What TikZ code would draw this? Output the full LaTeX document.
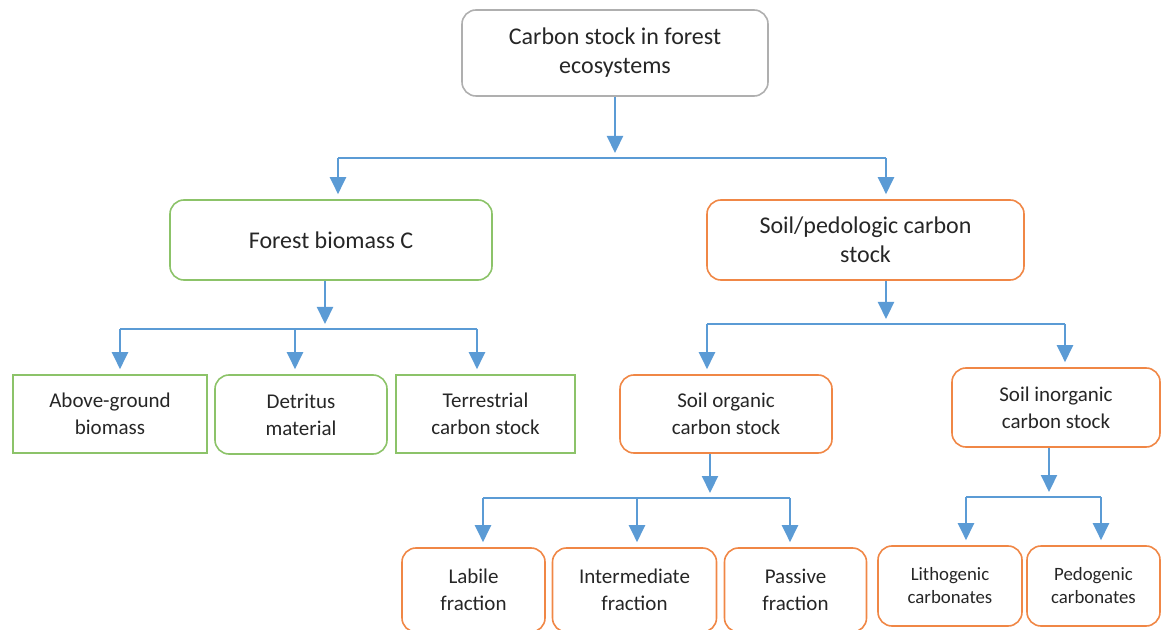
\documentclass[tikz,border=0pt]{standalone}
\usepackage{fontspec}
\setmainfont{Carlito}
\usetikzlibrary{arrows.meta}
\definecolor{arrowblue}{RGB}{91,155,213}
\definecolor{boxgreen}{RGB}{140,195,105}
\definecolor{boxorange}{RGB}{240,135,70}
\definecolor{boxgray}{RGB}{175,175,175}
\begin{document}
\begin{tikzpicture}[x=0.5pt, y=-0.5pt, >={Triangle[width=8pt,length=8.5pt]},
  box/.style={draw, line width=0.8pt, align=center, inner sep=2pt, text=black!85},
  rbox/.style={box, rounded corners=7pt},
  big/.style={font=\fontsize{12}{14.5}\selectfont},
  mid/.style={font=\fontsize{10.5}{13.5}\selectfont},
  small/.style={font=\fontsize{9.4}{11.5}\selectfont},
  arr/.style={->, arrowblue, line width=1.1pt, shorten >=2.5pt},
  bus/.style={arrowblue, line width=1.1pt}]
\useasboundingbox (0,0) rectangle (1161,630);
% boxes
\node[rbox, big, draw=boxgray, minimum width=153pt, minimum height=43pt] (ecosys) at (615,53) {Carbon stock in forest\\ecosystems};
\node[rbox, big, draw=boxgreen, minimum width=161pt, minimum height=40pt] (biomass) at (331,240) {Forest biomass C};
\node[rbox, big, draw=boxorange, minimum width=158.5pt, minimum height=40pt] (soil) at (865.5,240) {Soil/pedologic carbon\\stock};
\node[box, mid, draw=boxgreen, minimum width=97pt, minimum height=39pt] (above) at (110,414) {Above-ground\\biomass};
\node[rbox, mid, draw=boxgreen, minimum width=86pt, minimum height=39.5pt] (detritus) at (301,414.5) {Detritus\\material};
\node[box, mid, draw=boxgreen, minimum width=89.5pt, minimum height=39pt] (terr) at (485.5,414) {Terrestrial\\carbon stock};
\node[rbox, mid, draw=boxorange, minimum width=106pt, minimum height=39pt] (soc) at (726,414) {Soil organic\\carbon stock};
\node[rbox, mid, draw=boxorange, minimum width=104pt, minimum height=39.5pt] (sic) at (1056,407.5) {Soil inorganic\\carbon stock};
\node[rbox, mid, draw=boxorange, minimum width=71.5pt, minimum height=42pt] (labile) at (473.5,590) {Labile\\fraction};
\node[rbox, mid, draw=boxorange, minimum width=82pt, minimum height=42pt] (inter) at (634.5,590) {Intermediate\\fraction};
\node[rbox, mid, draw=boxorange, minimum width=71pt, minimum height=42pt] (passive) at (795.5,590) {Passive\\fraction};
\node[rbox, small, draw=boxorange, minimum width=72pt, minimum height=40pt] (litho) at (950,586) {Lithogenic\\carbonates};
\node[rbox, small, draw=boxorange, minimum width=66.5pt, minimum height=40pt] (pedo) at (1093.5,586) {Pedogenic\\carbonates};
% bus junctions
\coordinate (j1) at (615,158); \coordinate (j1l) at (338,158); \coordinate (j1r) at (886,158);
\coordinate (j2) at (325,329); \coordinate (j2l) at (120,329); \coordinate (j2m) at (295,329); \coordinate (j2r) at (477,329);
\coordinate (j3) at (886,324); \coordinate (j3l) at (707,324); \coordinate (j3r) at (1065,324);
\coordinate (j4) at (710,498); \coordinate (j4l) at (483,498); \coordinate (j4m) at (637,498); \coordinate (j4r) at (790,498);
\coordinate (j5) at (1049,497); \coordinate (j5l) at (966,497); \coordinate (j5r) at (1101,497);
% connectors
\draw[arr] (ecosys.south) -- (j1); \draw[bus] (j1l) -- (j1r);
\draw[arr] (j1l) -- (j1l |- biomass.north); \draw[arr] (j1r) -- (j1r |- soil.north);
\draw[arr] (j2 |- biomass.south) -- (j2); \draw[bus] (j2l) -- (j2r);
\draw[arr] (j2l) -- (j2l |- above.north); \draw[arr] (j2m) -- (j2m |- detritus.north); \draw[arr] (j2r) -- (j2r |- terr.north);
\draw[arr] (j3 |- soil.south) -- (j3); \draw[bus] (j3l) -- (j3r);
\draw[arr] (j3l) -- (j3l |- soc.north); \draw[arr] (j3r) -- (j3r |- sic.north);
\draw[arr] (j4 |- soc.south) -- (j4); \draw[bus] (j4l) -- (j4r);
\draw[arr] (j4l) -- (j4l |- labile.north); \draw[arr] (j4m) -- (j4m |- inter.north); \draw[arr] (j4r) -- (j4r |- passive.north);
\draw[arr] (j5 |- sic.south) -- (j5); \draw[bus] (j5l) -- (j5r);
\draw[arr] (j5l) -- (j5l |- litho.north); \draw[arr] (j5r) -- (j5r |- pedo.north);
\end{tikzpicture}
\end{document}
